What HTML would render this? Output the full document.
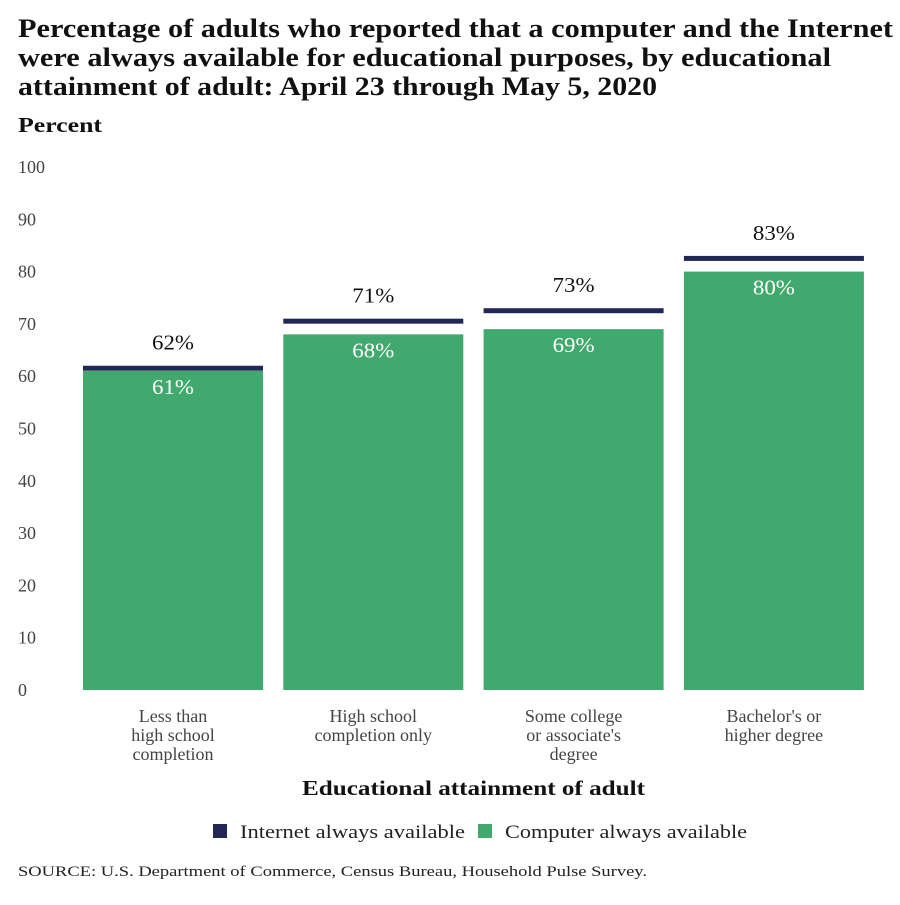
<!DOCTYPE html>
<html><head><meta charset="utf-8"><style>
body{margin:0;background:#fff;width:900px;height:900px;overflow:hidden;font-family:"Liberation Serif",serif}
</style></head><body>
<svg width="900" height="900" xmlns="http://www.w3.org/2000/svg" font-family="Liberation Serif, serif">
<g font-weight="bold" font-size="26" fill="#111">
<text x="18" y="37" textLength="875" lengthAdjust="spacingAndGlyphs">Percentage of adults who reported that a computer and the Internet</text>
<text x="18" y="66" textLength="813" lengthAdjust="spacingAndGlyphs">were always available for educational purposes, by educational</text>
<text x="18" y="95" textLength="639" lengthAdjust="spacingAndGlyphs">attainment of adult: April 23 through May 5, 2020</text>
</g>
<text x="18" y="132" font-size="21" font-weight="bold" fill="#111" textLength="84" lengthAdjust="spacingAndGlyphs">Percent</text>
<g id="yaxis"></g>
<g id="bars"></g>
<g id="xaxis"></g>
<text x="302" y="795" font-size="21" font-weight="bold" fill="#111" textLength="343" lengthAdjust="spacingAndGlyphs">Educational attainment of adult</text>
<g font-size="19" fill="#222">
<g><rect x="213" y="824" width="14" height="14" fill="#222855"/><text x="240" y="838" textLength="225" lengthAdjust="spacingAndGlyphs">Internet always available</text></g>
<g><rect x="478" y="824" width="14" height="14" fill="#41a96d"/><text x="505" y="838" textLength="242" lengthAdjust="spacingAndGlyphs">Computer always available</text></g>
</g>
<text x="18" y="876" font-size="15" fill="#222" textLength="629" lengthAdjust="spacingAndGlyphs">SOURCE: U.S. Department of Commerce, Census Bureau, Household Pulse Survey.</text>
</svg>
<script>
const categories=[["Less than","high school","completion"],["High school","completion only"],["Some college","or associate's","degree"],["Bachelor's or","higher degree"]];
const internetValues=[62,71,73,83];
const computerValues=[61,68,69,80];
const yTicks=[0,10,20,30,40,50,60,70,80,90,100];
const NS="http://www.w3.org/2000/svg";
const y0=690,y1=167,x0=83,step=200.3,bw=180;
const y=v=>y0-(y0-y1)*v/100;
const xb=i=>x0+i*step;
function mk(t,a,p,txt){const e=document.createElementNS(NS,t);for(const k in a)e.setAttribute(k,a[k]);if(txt!==undefined)e.textContent=txt;p.appendChild(e);return e;}
const ya=document.getElementById('yaxis');
yTicks.forEach(v=>{const t=mk('text',{x:18,y:y(v)+6,'font-size':18,fill:'#444'},ya,v);

});
const bg=document.getElementById('bars');
categories.forEach((c,i)=>{
const r2=mk('rect',{x:xb(i),y:y(computerValues[i]),width:bw,height:y0-y(computerValues[i]),fill:'#41a96d'},bg);


const r1=mk('rect',{x:xb(i),y:y(internetValues[i]),width:bw,height:5,fill:'#222855'},bg);


const l1=mk('text',{x:xb(i)+bw/2,y:y(internetValues[i])-16,'text-anchor':'middle','font-size':21,fill:'#111','textLength':42,'lengthAdjust':'spacingAndGlyphs'},bg,internetValues[i]+'%');


const l2=mk('text',{x:xb(i)+bw/2,y:y(computerValues[i])+23,'text-anchor':'middle','font-size':21,fill:'#fff','textLength':42,'lengthAdjust':'spacingAndGlyphs'},bg,computerValues[i]+'%');


});
const xa=document.getElementById('xaxis');
categories.forEach((c,i)=>{c.forEach((ln,j)=>{const t=mk('text',{x:xb(i)+bw/2,y:722+j*19,'text-anchor':'middle','font-size':18,fill:'#444'},xa,ln);

});});
</script>
</body></html>
